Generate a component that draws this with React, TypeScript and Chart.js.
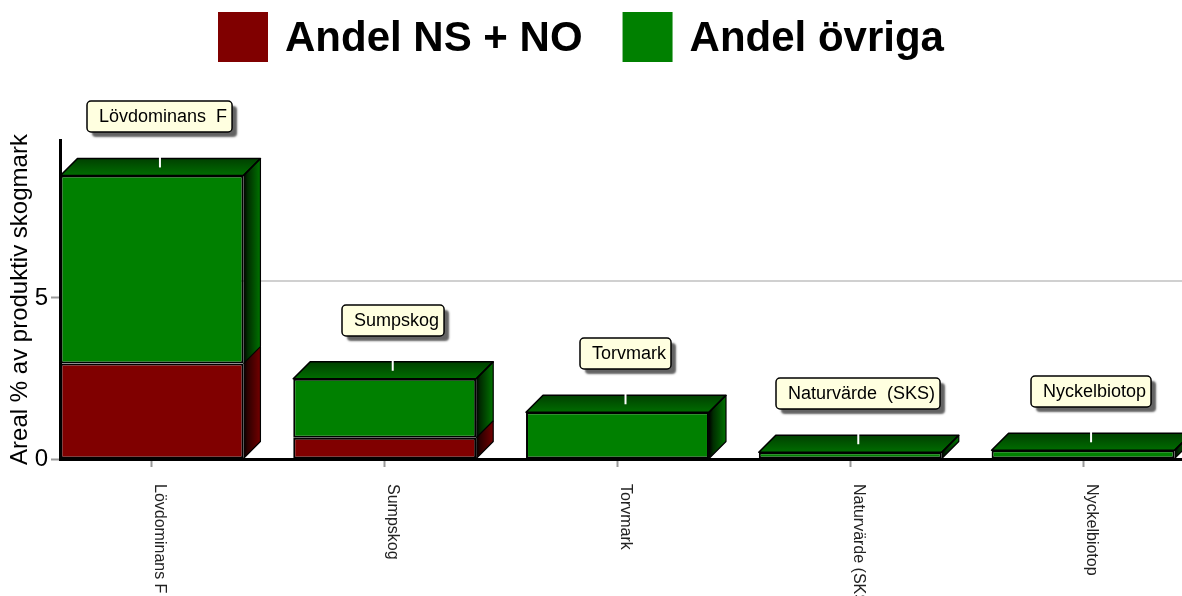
import React, { useEffect, useRef } from 'react';
import { Chart, registerables } from 'chart.js';

Chart.register(...registerables);

// ---------- data ----------
const categories = ['Lövdominans F', 'Sumpskog', 'Torvmark', 'Naturvärde (SKS)', 'Nyckelbiotop'];
const calloutLabels = ['Lövdominans  F', 'Sumpskog', 'Torvmark', 'Naturvärde  (SKS)', 'Nyckelbiotop'];
const seriesNames = ['Andel NS + NO', 'Andel övriga'];
const andelNsNo = [2.96, 0.66, 0, 0, 0];
const andelOvriga = [5.84, 1.83, 1.45, 0.21, 0.27];
const yTicks = [0, 5];
const yAxisTitle = 'Areal % av produktiv skogmark';

// ---------- styles ----------
const FONT = '"Liberation Sans", Arial, Helvetica, sans-serif';
const RED = '#800000';
const GREEN = '#008000';
const DEPTH = 17;

function shade(hex: string, f: number) {
  const n = parseInt(hex.slice(1), 16);
  const r = Math.round(((n >> 16) & 255) * f);
  const g = Math.round(((n >> 8) & 255) * f);
  const b = Math.round((n & 255) * f);
  return `rgb(${r},${g},${b})`;
}

const bar3dPlugin = {
  id: 'bar3d',
  beforeDatasetsDraw(chart: any) {
    const ctx = chart.ctx as CanvasRenderingContext2D;
    const { left, right } = chart.chartArea;
    const yScale = chart.scales.y;
    ctx.save();
    // back-wall grid lines
    ctx.strokeStyle = '#c0c0c0';
    ctx.lineWidth = 1.5;
    yTicks.filter((v) => v > 0).forEach((v) => {
      const py = yScale.getPixelForValue(v) - DEPTH;
      ctx.beginPath();
      ctx.moveTo(left + DEPTH, py);
      ctx.lineTo(right, py);
      ctx.stroke();
    });

    const n = categories.length;
    for (let i = 0; i < n; i++) {
      let topY = Infinity;
      let topColor = GREEN;
      let l = 0;
      let r = 0;
      chart.data.datasets.forEach((ds: any, di: number) => {
        const meta = chart.getDatasetMeta(di);
        const el = meta.data[i];
        if (!el) return;
        const val = ds.data[i]?.y;
        if (!val) return;
        const p = el.getProps(['x', 'y', 'base', 'width'], true);
        const lft = p.x - p.width / 2;
        const rgt = p.x + p.width / 2;
        const t = Math.min(p.y, p.base);
        const b = Math.max(p.y, p.base);
        const color = ds.backgroundColor as string;
        // side face
        const g = ctx.createLinearGradient(rgt, 0, rgt + DEPTH, 0);
        g.addColorStop(0, '#000000');
        g.addColorStop(0.25, shade(color, 0.35));
        g.addColorStop(1, shade(color, 0.9));
        ctx.beginPath();
        ctx.moveTo(rgt, t);
        ctx.lineTo(rgt + DEPTH, t - DEPTH);
        ctx.lineTo(rgt + DEPTH, b - DEPTH);
        ctx.lineTo(rgt, b);
        ctx.closePath();
        ctx.fillStyle = g;
        ctx.fill();
        ctx.strokeStyle = '#000';
        ctx.lineWidth = 1.2;
        ctx.beginPath();
        ctx.moveTo(rgt + DEPTH, t - DEPTH);
        ctx.lineTo(rgt + DEPTH, b - DEPTH);
        ctx.lineTo(rgt, b);
        ctx.stroke();
        if (t < topY) {
          topY = t;
          topColor = color;
          l = lft;
          r = rgt;
        }
      });
      if (topY === Infinity) continue;
      // top face
      const gt = ctx.createLinearGradient(0, topY - DEPTH, 0, topY);
      gt.addColorStop(0, shade(topColor, 0.5));
      gt.addColorStop(1, shade(topColor, 0.85));
      ctx.beginPath();
      ctx.moveTo(l, topY);
      ctx.lineTo(l + DEPTH, topY - DEPTH);
      ctx.lineTo(r + DEPTH, topY - DEPTH);
      ctx.lineTo(r, topY);
      ctx.closePath();
      ctx.fillStyle = gt;
      ctx.fill();
      ctx.strokeStyle = '#000';
      ctx.lineWidth = 1.6;
      ctx.lineJoin = 'round';
      ctx.stroke();
      ctx.beginPath();
      ctx.moveTo(r, topY);
      ctx.lineTo(r + DEPTH, topY - DEPTH);
      ctx.stroke();
      // white back-wall tick mark
      const cx = chart.scales.x.getPixelForValue(i) + 8;
      ctx.strokeStyle = '#ffffff';
      ctx.lineWidth = 2;
      ctx.beginPath();
      ctx.moveTo(cx, topY - DEPTH - 2);
      ctx.lineTo(cx, topY - DEPTH + 9);
      ctx.stroke();
    }
    ctx.restore();
  },
  afterDatasetsDraw(chart: any) {
    const ctx = chart.ctx as CanvasRenderingContext2D;
    ctx.save();
    ctx.font = `18px ${FONT}`;
    for (let i = 0; i < categories.length; i++) {
      let topY = Infinity;
      chart.data.datasets.forEach((ds: any, di: number) => {
        const el = chart.getDatasetMeta(di).data[i];
        if (!el || !ds.data[i]?.y) return;
        const p = el.getProps(['y', 'base'], true);
        topY = Math.min(topY, p.y, p.base);
      });
      if (topY === Infinity) continue;
      const cx = chart.scales.x.getPixelForValue(i) + 8;
      const label = calloutLabels[i];
      const tw = ctx.measureText(label).width;
      const w = tw + 17;
      const h = 31;
      const bx = Math.round(cx - w / 2);
      const by = Math.round(topY - DEPTH - 26 - h);
      ctx.save();
      ctx.shadowColor = 'rgba(60,60,60,0.8)';
      ctx.shadowOffsetX = 5;
      ctx.shadowOffsetY = 5;
      ctx.shadowBlur = 2;
      ctx.fillStyle = '#ffffe0';
      ctx.beginPath();
      ctx.roundRect(bx, by, w, h, 4);
      ctx.fill();
      ctx.restore();
      ctx.strokeStyle = '#000';
      ctx.lineWidth = 1.5;
      ctx.beginPath();
      ctx.roundRect(bx, by, w, h, 4);
      ctx.stroke();
      ctx.fillStyle = '#000';
      ctx.textBaseline = 'middle';
      ctx.textAlign = 'left';
      ctx.fillText(label, bx + 12, by + h / 2 + 1);
    }
    ctx.restore();
  },
  afterDraw(chart: any) {
    const ctx = chart.ctx as CanvasRenderingContext2D;
    ctx.save();
    // rotated category labels (reading top to bottom)
    ctx.font = `16px ${FONT}`;
    ctx.fillStyle = '#222';
    ctx.textBaseline = 'alphabetic';
    ctx.textAlign = 'left';
    categories.forEach((c, i) => {
      const px = chart.scales.x.getPixelForValue(i);
      ctx.save();
      ctx.translate(px + 3.5, 484);
      ctx.rotate(Math.PI / 2);
      ctx.fillText(c, 0, 0);
      ctx.restore();
    });
    // legend
    ctx.font = `bold 42px ${FONT}`;
    const items = chart.data.datasets.map((d: any) => ({
      label: d.label as string,
      color: d.backgroundColor as string,
      w: ctx.measureText(d.label).width,
    }));
    const box = 50;
    const gap = 17;
    const itemGap = 40;
    const total = items.reduce((s: number, it: any) => s + box + gap + it.w, 0) + itemGap * (items.length - 1);
    let x = Math.round(581 - total / 2);
    items.forEach((it: any) => {
      ctx.fillStyle = it.color;
      ctx.fillRect(x, 12, box, box);
      ctx.fillStyle = '#000';
      ctx.fillText(it.label, x + box + gap, 51);
      x += box + gap + it.w + itemGap;
    });
    ctx.restore();
  },
};

export default function App() {
  const canvasRef = useRef<HTMLCanvasElement | null>(null);

  useEffect(() => {
    if (!canvasRef.current) return;
    const chart = new Chart(canvasRef.current, {
      type: 'bar',
      data: {
        datasets: [
          {
            label: seriesNames[0],
            data: categories.map((_, i) => ({ x: i, y: andelNsNo[i] })),
            backgroundColor: RED,
            borderColor: '#000',
            borderWidth: 2,
            borderSkipped: false,
          },
          {
            label: seriesNames[1],
            data: categories.map((_, i) => ({ x: i, y: andelOvriga[i] })),
            backgroundColor: GREEN,
            borderColor: '#000',
            borderWidth: 2,
            borderSkipped: false,
          },
        ],
      },
      options: {
        responsive: false,
        animation: false,
        devicePixelRatio: 1,
        categoryPercentage: 1,
        barPercentage: 0.786,
        layout: { padding: { top: 140, left: 0, right: 0, bottom: 0 } },
        plugins: {
          legend: { display: false },
          tooltip: { enabled: false },
        },
        scales: {
          x: {
            type: 'linear',
            offset: false,
            min: -0.395,
            max: 4.425,
            stacked: true,
            afterBuildTicks: (s: any) => {
              s.ticks = categories.map((_, i) => ({ value: i }));
            },
            afterFit: (s: any) => {
              s.height = 137;
            },
            ticks: { display: false },
            grid: {
              offset: false,
              drawOnChartArea: false,
              drawTicks: true,
              tickLength: 8,
              tickColor: '#999',
              tickWidth: 2,
            },
            border: { display: true, color: '#000', width: 3 },
          },
          y: {
            stacked: true,
            min: 0,
            max: 9.9,
            afterBuildTicks: (s: any) => {
              s.ticks = yTicks.map((v) => ({ value: v }));
            },
            afterFit: (s: any) => {
              s.width = 60;
            },
            ticks: { color: '#000', font: { family: FONT, size: 24 }, padding: 3 },
            grid: {
              drawOnChartArea: false,
              drawTicks: true,
              tickLength: 9,
              tickColor: '#999',
              tickWidth: 2,
            },
            border: { display: true, color: '#000', width: 3 },
            title: {
              display: true,
              text: yAxisTitle,
              color: '#000',
              font: { family: FONT, size: 24 },
              padding: { top: 6, bottom: 0 },
            },
          },
        },
      },
      plugins: [bar3dPlugin],
    } as any);
    return () => chart.destroy();
  }, []);

  return (
    <div style={{ position: 'absolute', left: 0, top: 0, width: 1182, height: 596, background: '#fff' }}>
      <canvas ref={canvasRef} width={1182} height={596} style={{ display: 'block' }} />
    </div>
  );
}
